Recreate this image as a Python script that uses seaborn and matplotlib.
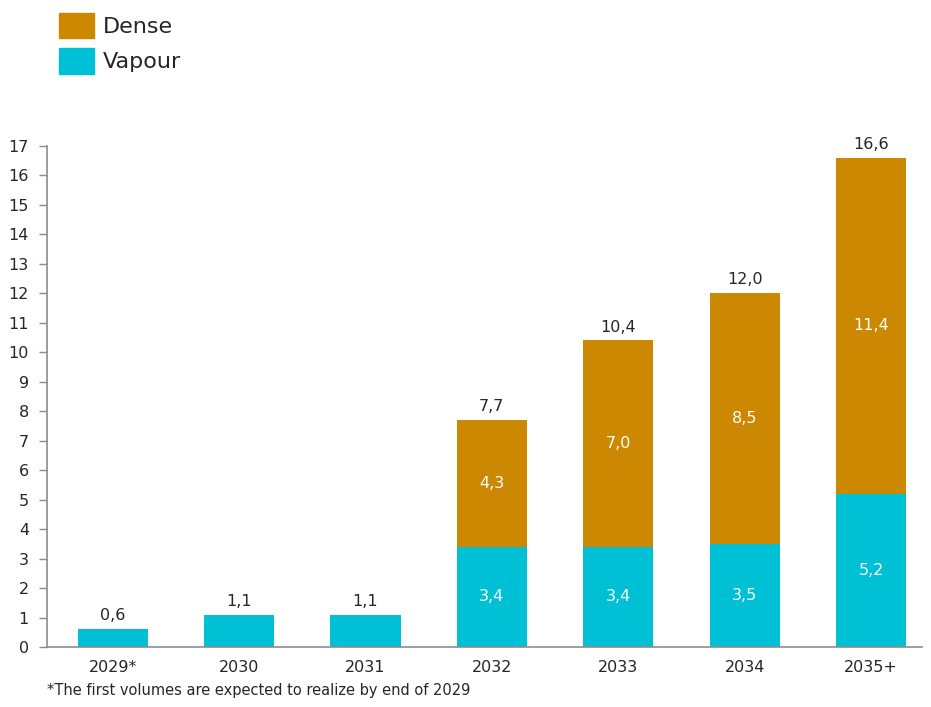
import matplotlib
matplotlib.use("Agg")
import matplotlib.pyplot as plt
import matplotlib.patches as mpatches
import seaborn as sns
import pandas as pd

categories = ["2029*", "2030", "2031", "2032", "2033", "2034", "2035+"]
vapour = [0.6, 1.1, 1.1, 3.4, 3.4, 3.5, 5.2]
dense = [0.0, 0.0, 0.0, 4.3, 7.0, 8.5, 11.4]
footnote = "*The first volumes are expected to realize by end of 2029"

DENSE_C = "#CC8800"
VAPOUR_C = "#00C0D6"
TEXT_C = "#262626"
AXIS_C = "#8C8C8C"

sns.set_style("white")
plt.rcParams["font.family"] = ["DejaVu Sans"]

totals = [v + d for v, d in zip(vapour, dense)]
df = pd.DataFrame({"cat": categories, "vapour": vapour, "dense": dense, "total": totals})

fig = plt.figure(figsize=(9.31, 7.07), dpi=100)
ax = fig.add_axes([0.0505, 0.0849, 0.9395, 0.7086])

sns.barplot(data=df, x="cat", y="total", color=DENSE_C, saturation=1, width=0.555, linewidth=0, ax=ax)
sns.barplot(data=df, x="cat", y="vapour", color=VAPOUR_C, saturation=1, width=0.555, linewidth=0, ax=ax)

ax.set_xlim(-0.52, 6.40)
ax.set_ylim(0, 17)
ax.set_yticks(range(0, 18))
ax.set_xlabel("")
ax.set_ylabel("")
for s in ["top", "right"]:
    ax.spines[s].set_visible(False)
for s in ["left", "bottom"]:
    ax.spines[s].set_color(AXIS_C)
    ax.spines[s].set_linewidth(1.2)
ax.tick_params(axis="y", left=True, length=6, width=1, color=AXIS_C, labelsize=11.5, labelcolor=TEXT_C, pad=7)
ax.tick_params(axis="x", bottom=False, labelsize=11.5, labelcolor=TEXT_C, pad=6)

def fmt(v):
    return f"{v:.1f}".replace(".", ",")

for i in range(len(categories)):
    ax.text(i, totals[i] + 0.2, fmt(totals[i]), ha="center", va="bottom", fontsize=11.5, color=TEXT_C)
    if dense[i] > 0:
        ax.text(i, vapour[i] / 2, fmt(vapour[i]), ha="center", va="center", fontsize=11.5, color="white")
        ax.text(i, vapour[i] + dense[i] / 2, fmt(dense[i]), ha="center", va="center", fontsize=11.5, color="white")

handles = [mpatches.Patch(color=DENSE_C, label="Dense"), mpatches.Patch(color=VAPOUR_C, label="Vapour")]
fig.legend(handles=handles, loc="upper left", bbox_to_anchor=(0.042, 1.01), frameon=False,
           fontsize=16, handlelength=1.57, handleheight=1.38, handletextpad=0.38, labelspacing=0.45,
           labelcolor=TEXT_C)

fig.text(0.0505, 0.024, footnote, fontsize=10.5, color=TEXT_C, ha="left", va="center")

fig.savefig("out.png", dpi=100)
